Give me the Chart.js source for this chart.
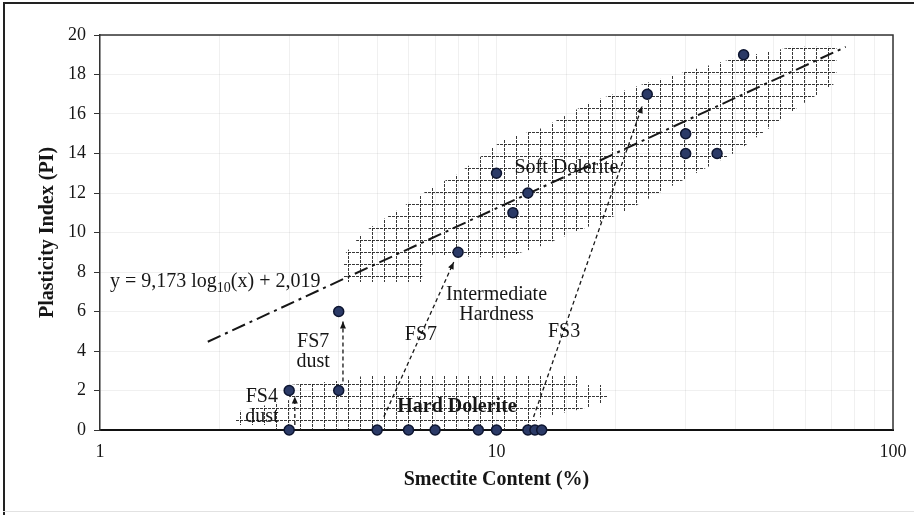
<!DOCTYPE html>
<html>
<head>
<meta charset="utf-8">
<script src="https://cdn.jsdelivr.net/npm/chart.js@4/dist/chart.umd.min.js"></script>
<style>
  html, body { margin: 0; padding: 0; background: #fff; }
  #wrap { width: 914px; height: 515px; position: relative; }
</style>
</head>
<body>
<div id="wrap"><canvas id="chart" width="914" height="515"></canvas></div>
<script>
// --------- DADOS ----------
const smectite   = [3, 3, 4, 4, 5, 6, 7, 9, 10, 12, 12.5, 13, 8, 10, 11, 12, 24, 30, 30, 36, 42];
const plasticity = [0, 2, 2, 6, 0, 0, 0, 0, 0, 0, 0, 0, 9, 13, 11, 12, 17, 15, 14, 14, 19];

// linha de tendência y = 9,173 log10(x) + 2,019 (extremos)
const trendX = [1.87, 76];
const trendY = [4.47, 19.4];

// setas (início -> fim)
const fs4DustX = [3.1, 3.1],   fs4DustY = [0.25, 1.7];
const fs7DustX = [4.1, 4.1],   fs7DustY = [2.45, 5.5];
const fs7X     = [5.2, 7.8],   fs7Y     = [0.67, 8.5];
const fs3X     = [12.4, 23.3], fs3Y     = [0.66, 16.4];

// zonas hachuradas
const softZoneX = [4.1, 4.1, 4.6, 5.6, 6.9, 7.9, 10.4, 13.1, 17.2, 24.1, 30.8, 39.5, 56, 72, 72, 59, 40.4, 27.4, 20.8, 12.9, 10.4, 6.5, 6.5];
const softZoneY = [7.5, 8.8, 10.0, 11.1, 12.3, 12.9, 14.7, 15.3, 16.6, 17.6, 18.2, 18.8, 19.4, 19.4, 17.6, 16.5, 14.1, 12.3, 11.0, 9.3, 8.7, 8.9, 7.5];
const hardZoneX = [2.19, 3.0, 3.0, 4.27, 4.66, 16.0, 16.0, 19.0, 19.0, 16.0, 12.65, 12.65, 2.68, 2.68, 2.19];
const hardZoneY = [0.91, 1.52, 2.28, 2.53, 2.78, 2.78, 2.28, 2.28, 1.42, 1.01, 0.61, -0.51, -0.51, 0.25, 0.25];

const yTicks = [0, 2, 4, 6, 8, 10, 12, 14, 16, 18, 20];
const xTickLabels = [1, 10, 100];

const zip = (xs, ys) => xs.map((x, i) => ({x: x, y: ys[i]}));

// --------- ESTILO ----------
const serif = "'Liberation Serif', 'DejaVu Serif', serif";
const ink = "#161616";

function makeHatch(){
    const c = document.createElement("canvas");
    c.width = 12; c.height = 12;
    const g = c.getContext("2d");
    g.fillStyle = "rgba(35,35,35,0.9)";
    for(let i = 0; i < 12; i += 4){
        g.fillRect(i, 0, 3, 1);
        g.fillRect(0, i, 1, 3);
    }
    return g.createPattern(c, "repeat");
}
const hatch = makeHatch();

// rótulos (posição em coordenadas dos dados)
const notes = [
    {x: 15.0, y: 13.3, lines: ["Soft Dolerite"], bold: false},
    {x: 7.95, y: 1.16, lines: ["Hard Dolerite"], bold: true},
    {x: 10.0, y: 6.85, lines: ["Intermediate", "Hardness"], bold: false},
    {x: 6.45, y: 4.8,  lines: ["FS7"], bold: false},
    {x: 14.8, y: 4.95, lines: ["FS3"], bold: false},
    {x: 3.45, y: 4.45, lines: ["FS7", "dust"], bold: false},
    {x: 2.56, y: 1.67, lines: ["FS4", "dust"], bold: false}
];

const lineDs = (xs, ys, extra) => Object.assign({
    type: "line", data: zip(xs, ys), pointRadius: 0, fill: false,
    borderColor: ink, borderWidth: 1.3, borderDash: [4, 3], tension: 0
}, extra);

// --------- PLUGIN: moldura, setas, textos ----------
const extras = {
    id: "extras",
    afterDatasetsDraw(chart){
        const {ctx, chartArea: a, scales: {x, y}} = chart;
        ctx.save();

        // moldura externa
        ctx.fillStyle = "#222";
        ctx.fillRect(3, 2, 2, 513);
        ctx.fillRect(3, 2, 911, 2);
        ctx.fillStyle = "#e2e2e2";
        ctx.fillRect(3, 511, 911, 1);

        // moldura da área do gráfico
        ctx.strokeStyle = "#333";
        ctx.lineWidth = 1.5;
        ctx.beginPath();
        ctx.moveTo(a.left, a.top); ctx.lineTo(a.right, a.top); ctx.lineTo(a.right, a.bottom);
        ctx.stroke();

        // pontas das setas
        ctx.fillStyle = ink;
        [[fs4DustX, fs4DustY], [fs7DustX, fs7DustY], [fs7X, fs7Y], [fs3X, fs3Y]].forEach(([xs, ys]) => {
            const x0 = x.getPixelForValue(xs[0]), y0 = y.getPixelForValue(ys[0]);
            const x1 = x.getPixelForValue(xs[1]), y1 = y.getPixelForValue(ys[1]);
            const ang = Math.atan2(y1 - y0, x1 - x0);
            ctx.save();
            ctx.translate(x1, y1);
            ctx.rotate(ang);
            ctx.beginPath();
            ctx.moveTo(0, 0); ctx.lineTo(-7, -3); ctx.lineTo(-7, 3);
            ctx.closePath();
            ctx.fill();
            ctx.restore();
        });

        // textos
        ctx.fillStyle = ink;
        ctx.textAlign = "center";
        ctx.textBaseline = "middle";
        notes.forEach(n => {
            ctx.font = (n.bold ? "bold " : "") + "20px " + serif;
            const px = x.getPixelForValue(n.x), py = y.getPixelForValue(n.y);
            n.lines.forEach((t, i) => ctx.fillText(t, px, py + i * 20));
        });

        // equação com subscrito
        let ex = x.getPixelForValue(1.06);
        const ey = y.getPixelForValue(7.5);
        ctx.textAlign = "left";
        const parts = [["y = 9,173 log", 20, 0], ["10", 14, 6], ["(x) + 2,019", 20, 0]];
        parts.forEach(([t, s, dy]) => {
            ctx.font = s + "px " + serif;
            ctx.fillText(t, ex, ey + dy);
            ex += ctx.measureText(t).width;
        });

        ctx.restore();
    }
};

// --------- GRÁFICO ----------
new Chart(document.getElementById("chart"), {
    type: "scatter",
    data: {
        datasets: [
            {type: "line", data: zip(softZoneX, softZoneY), fill: "shape", backgroundColor: hatch,
             borderWidth: 0, pointRadius: 0, order: 10, clip: false},
            {type: "line", data: zip(hardZoneX, hardZoneY), fill: "shape", backgroundColor: hatch,
             borderWidth: 0, pointRadius: 0, order: 10, clip: false},
            lineDs(trendX, trendY, {borderWidth: 2, borderDash: [14, 5, 3, 5], order: 5}),
            lineDs(fs4DustX, fs4DustY, {order: 4}),
            lineDs(fs7DustX, fs7DustY, {order: 4}),
            lineDs(fs7X, fs7Y, {order: 4}),
            lineDs(fs3X, fs3Y, {order: 4}),
            {type: "scatter", data: zip(smectite, plasticity), pointRadius: 5,
             backgroundColor: "#2b3a67", borderColor: "#0d1530", borderWidth: 1.5, order: 0, clip: false}
        ]
    },
    options: {
        responsive: false,
        animation: false,
        layout: {padding: {left: 0, right: 21, top: 35, bottom: 0}},
        plugins: {legend: {display: false}, tooltip: {enabled: false}},
        scales: {
            x: {
                type: "logarithmic", min: 1, max: 100,
                afterFit: s => { s.height = 85; s.paddingRight = 0; s.paddingLeft = 0; },
                grid: {color: "rgba(0,0,0,0.06)", drawTicks: false},
                border: {display: true, color: "#111", width: 2},
                ticks: {
                    autoSkip: false, maxRotation: 0, padding: 11, color: ink,
                    font: {family: serif, size: 18},
                    callback: v => xTickLabels.includes(v) ? String(v) : ""
                },
                title: {display: true, text: "Smectite Content (%)", color: ink,
                        font: {family: serif, size: 20, weight: "bold", lineHeight: 1.2},
                        padding: {top: 0, bottom: 23}}
            },
            y: {
                min: 0, max: 20,
                afterFit: s => { s.width = 100; },
                afterBuildTicks: s => { s.ticks = yTicks.map(v => ({value: v})); },
                grid: {color: "rgba(0,0,0,0.06)", tickColor: "#333", tickLength: 6},
                border: {display: true, color: "#333", width: 1.5},
                ticks: {padding: 8, color: ink, font: {family: serif, size: 18}},
                title: {display: true, text: "Plasticity Index (PI)", color: ink,
                        font: {family: serif, size: 20, weight: "bold", lineHeight: 1.2},
                        padding: {top: 36, bottom: 0}}
            }
        }
    },
    plugins: [extras]
});
</script>
</body>
</html>
